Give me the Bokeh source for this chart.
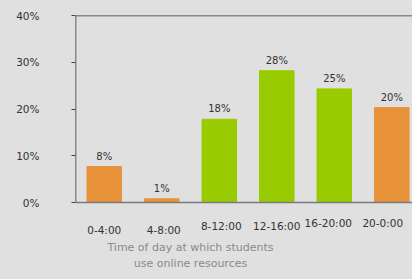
from bokeh.plotting import figure
from bokeh.models import Range1d, Span, LabelSet, ColumnDataSource, Label, FixedTicker
from bokeh.core.properties import value
from bokeh.embed import file_html
from bokeh.resources import INLINE

categories = ["0-4:00", "4-8:00", "8-12:00", "12-16:00", "16-20:00", "20-0:00"]
values = [7.7, 0.8, 17.8, 28.2, 24.3, 20.3]
value_labels = ["8%", "1%", "18%", "28%", "25%", "20%"]
bar_colors = ["#E8923A", "#E8923A", "#99CC00", "#99CC00", "#99CC00", "#E8923A"]
y_ticks = [0, 10, 20, 30, 40]
y_tick_labels = ["0%", "10%", "20%", "30%", "40%"]
x_title = ["Time of day at which students", "use online resources"]

BG = "#e0e0e0"
FONT = "DejaVu Sans"
xs = list(range(len(categories)))

p = figure(width=412, height=279, output_backend="svg", toolbar_location=None,
           x_range=Range1d(-0.5, 5.36), y_range=Range1d(-16.47, 40),
           min_border_left=75, min_border_top=15, min_border_bottom=0, min_border_right=0)
p.background_fill_color = BG
p.border_fill_color = BG
p.styles = {"background-color": BG}
p.outline_line_color = None
p.grid.visible = False

src = ColumnDataSource(dict(x=xs, top=values, color=bar_colors, lab=value_labels))
p.vbar(x="x", top="top", width=0.6, color="color", source=src)

p.xaxis.visible = False
yax = p.yaxis[0]
yax.ticker = FixedTicker(ticks=y_ticks)
yax.major_label_overrides = {t: l for t, l in zip(y_ticks, y_tick_labels)}
yax.axis_line_color = None
yax.major_tick_out = 4
yax.major_tick_in = 0
yax.minor_tick_line_color = None
yax.major_tick_line_color = "#444444"
yax.major_label_standoff = 32
yax.major_label_text_font = FONT
yax.major_label_text_font_size = "10.5px"
yax.major_label_text_color = "#333333"

# y axis line from 0% to 40%
p.segment(x0=[-0.5], y0=[y_ticks[0]], x1=[-0.5], y1=[y_ticks[-1]], line_color="#333333", line_width=1.5)
p.add_layout(Span(location=y_ticks[-1], dimension="width", line_color="#333333", line_width=1.5))
p.segment(x0=[-0.5], y0=[y_ticks[0]], x1=[5.36], y1=[y_ticks[0]], line_color="#7a7a7a", line_width=1.5)

p.add_layout(LabelSet(x="x", y="top", text="lab", source=src, y_offset=5,
                      text_align="center", text_baseline="bottom",
                      text_font=value(FONT), text_font_size="10px",
                      text_color="#333333"))

xl_src = ColumnDataSource(dict(x=xs, y=[-5.8, -5.8, -5.1, -5.1, -4.3, -4.3], cat=categories,
                               dx=[0, 2, 2, 0, -6, -9]))
p.add_layout(LabelSet(x="x", y="y", text="cat", source=xl_src, x_offset="dx",
                      text_align="center", text_baseline="middle",
                      text_font=value(FONT), text_font_size="10.5px",
                      text_color="#333333"))

p.add_layout(Label(x=1.5, y=-9.6, text=x_title[0],
                   text_align="center", text_baseline="middle",
                   text_font=FONT, text_font_size="11px", text_color="#8a8a8a"))
p.add_layout(Label(x=1.5, y=-13.05, text=x_title[1],
                   text_align="center", text_baseline="middle",
                   text_font=FONT, text_font_size="11px", text_color="#8a8a8a"))

open("out.html", "w").write(file_html(p, INLINE))
